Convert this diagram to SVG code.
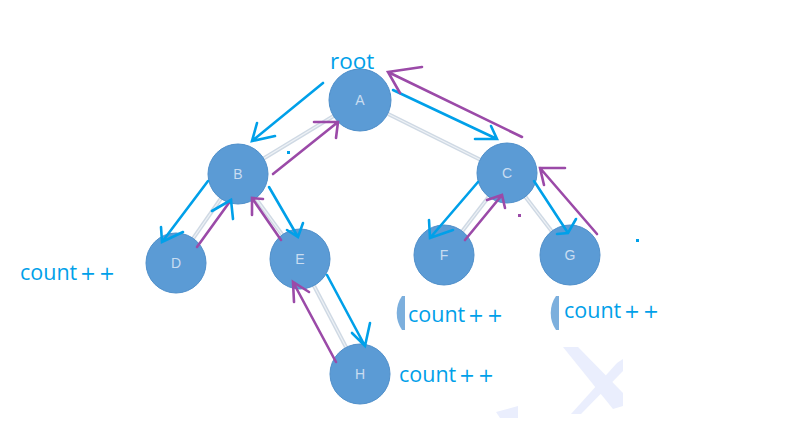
<svg xmlns="http://www.w3.org/2000/svg" width="798" height="436" viewBox="0 0 798 436">
<defs>
<style>
.edge{stroke:#cfd9e4;stroke-width:4;fill:none}
.edge2{stroke:#eef2f6;stroke-width:1.2;fill:none}
.node circle{fill:#5b9bd5;stroke:#4f8fca;stroke-width:1}
.node text{font-family:"Liberation Sans",Arial,sans-serif;font-size:14px;fill:#c9ddf1;text-anchor:middle}
.b{stroke:#00a0e9;stroke-width:2.6;fill:none;stroke-linecap:round}
.p{stroke:#9b4aa8;stroke-width:2.6;fill:none;stroke-linecap:round}
.lbl{font-family:"Open Sans","DejaVu Sans",sans-serif;font-size:21.5px;fill:#00a0e9}
.pl{font-family:"DejaVu Sans",sans-serif;font-size:19px}
</style>
</defs>
<rect width="798" height="436" fill="#ffffff"/>
<g id="watermark" fill="#eaeefd">
<polygon points="563,347 578,347 623,393 623,406 613,409"/>
<polygon points="617,363 623,359 623,371 581,414 571,414"/>
<polygon points="496,412 518,406 518,418 500,418"/>
</g>
<g id="edges">
<line class="edge" x1="360" y1="100" x2="238" y2="174"/>
<line class="edge" x1="360" y1="100" x2="507" y2="173"/>
<line class="edge" x1="238" y1="174" x2="176" y2="263"/>
<line class="edge" x1="238" y1="174" x2="300" y2="259"/>
<line class="edge" x1="507" y1="173" x2="444" y2="255"/>
<line class="edge" x1="507" y1="173" x2="570" y2="255"/>
<line class="edge" x1="300" y1="259" x2="360" y2="374"/>
<line class="edge2" x1="360" y1="100" x2="238" y2="174"/>
<line class="edge2" x1="360" y1="100" x2="507" y2="173"/>
<line class="edge2" x1="238" y1="174" x2="176" y2="263"/>
<line class="edge2" x1="238" y1="174" x2="300" y2="259"/>
<line class="edge2" x1="507" y1="173" x2="444" y2="255"/>
<line class="edge2" x1="507" y1="173" x2="570" y2="255"/>
<line class="edge2" x1="300" y1="259" x2="360" y2="374"/>
</g>
<g id="fragments" fill="#5b9bd5">
<path d="M402,296 A30,30 0 0 0 402,330 L405,330 L405,296 Z" opacity="0.8"/>
<path d="M556,296 A30,30 0 0 0 556,330 L559,330 L559,296 Z" opacity="0.8"/>
</g>
<g id="node-A" class="node"><circle cx="360" cy="100" r="31"/><text x="360" y="105">A</text></g>
<g id="node-B" class="node"><circle cx="238" cy="174" r="30"/><text x="238" y="179">B</text></g>
<g id="node-C" class="node"><circle cx="507" cy="173" r="30"/><text x="507" y="178">C</text></g>
<g id="node-D" class="node"><circle cx="176" cy="263" r="30"/><text x="176" y="268">D</text></g>
<g id="node-E" class="node"><circle cx="300" cy="259" r="30"/><text x="300" y="264">E</text></g>
<g id="node-F" class="node"><circle cx="444" cy="255" r="30"/><text x="444" y="260">F</text></g>
<g id="node-G" class="node"><circle cx="570" cy="255" r="30"/><text x="570" y="260">G</text></g>
<g id="node-H" class="node"><circle cx="360" cy="374" r="30"/><text x="360" y="379">H</text></g>
<g id="connectors">
<path class="b" d="M323,83 L252,141 M257,123 L252,141 L275,136"/>
<path class="b" d="M393,90 L497,139 M491,126 L497,139 L475,139"/>
<path class="p" d="M522,137 L388,72 M422,67 L388,72 L400,93"/>
<path class="p" d="M273,174 L338,122 M314,122 L338,122 L336,138"/>
<path class="b" d="M208,181 L162,242 M161,227 L162,242 L183,232"/>
<path class="p" d="M197,247 L231,200"/>
<path class="b" d="M212,211 L231,200 L233,219"/>
<path class="b" d="M269,187 L298,237 M303,223 L298,237 L287,230"/>
<path class="p" d="M281,240 L252,198 M263,199 L252,198 L252,215"/>
<path class="b" d="M327,275 L365,346 M370,323 L365,346 L352,333"/>
<path class="p" d="M336,362 L293,282 M309,292 L293,282 L294,302"/>
<path class="b" d="M478,182 L430,238 M429,220 L430,238 L453,230"/>
<path class="p" d="M465,240 L502,195 M487,200 L502,195 L505,208"/>
<path class="b" d="M534,181 L568,233 M576,219 L568,233 L557,234"/>
<path class="p" d="M597,234 L540,168 M565,168 L540,168 L544,185"/>
</g>
<g id="dots">
<rect x="287" y="151" width="3" height="3" fill="#00a0e9"/>
<rect x="518" y="214" width="3" height="3" fill="#9b4aa8"/>
<rect x="636" y="239" width="3" height="3" fill="#00a0e9"/>
</g>
<g id="labels">
<text class="lbl" x="330" y="69" style="font-size:22.5px">root</text>
<text class="lbl" x="20" y="280">count<tspan class="pl" x="80">+</tspan><tspan class="pl" x="99">+</tspan></text>
<text class="lbl" x="408" y="322">count<tspan class="pl" x="468">+</tspan><tspan class="pl" x="487">+</tspan></text>
<text class="lbl" x="564" y="318">count<tspan class="pl" x="624">+</tspan><tspan class="pl" x="643">+</tspan></text>
<text class="lbl" x="399" y="382">count<tspan class="pl" x="459">+</tspan><tspan class="pl" x="478">+</tspan></text>
</g>
</svg>
